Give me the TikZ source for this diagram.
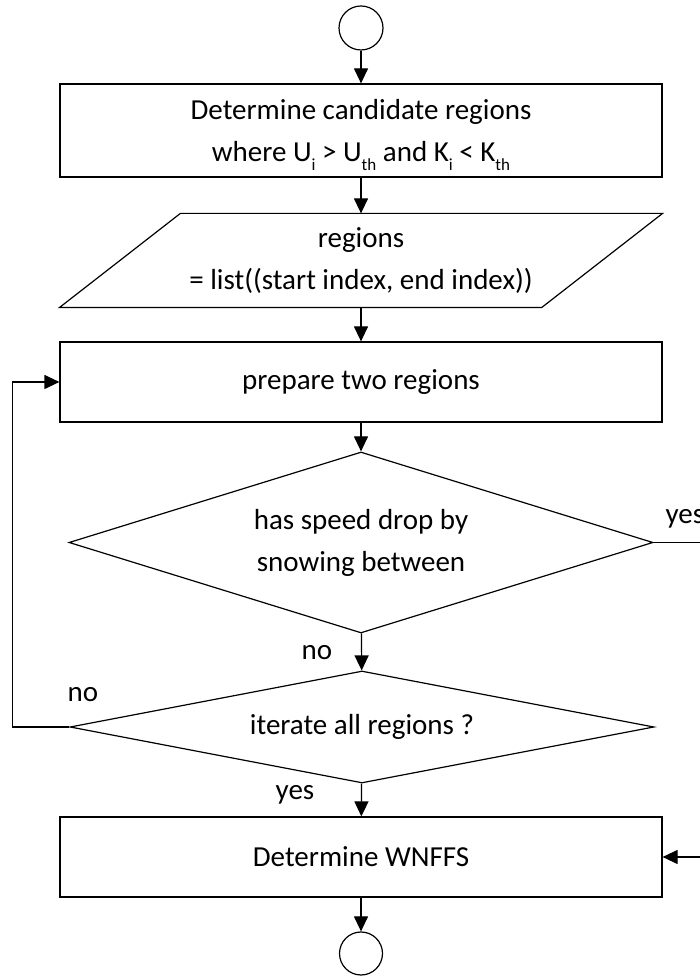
\documentclass[tikz,border=0pt]{standalone}
\usepackage{fontspec}
\setmainfont{Carlito}
\usetikzlibrary{shapes.geometric, arrows.meta}
\newcommand\lowsub[1]{\raisebox{-9pt}[0pt][0pt]{\fontsize{17}{17}\selectfont #1}}

\begin{document}
\begin{tikzpicture}[x = 1pt, y = 1pt, line width = 1.2pt,
	every node/.style = {font = \fontsize{29}{42}\selectfont, align = center, inner sep = 0pt},
	term/.style = {draw, circle, minimum size = 44pt},
	proc/.style = {draw, rectangle, minimum width = 602pt},
	dec/.style = {draw, diamond, minimum width = 584pt},
	arr/.style = {-{Triangle[length = 15pt, width = 14pt]}}]
	\clip (0,0) rectangle (700,977);

	\node[term] (start) at (361,949) {};
	\node[proc, minimum height = 93pt] (cand) at (361,846.5)
		{Determine candidate regions\\where U\lowsub{i} > U\lowsub{th} and K\lowsub{i} < K\lowsub{th}};
	\node[minimum width = 602pt, minimum height = 93pt] (regs) at (361,716.5)
		{regions\\= list((start index, end index))};
	\node[proc, minimum height = 80pt] (prep) at (361,595) {prepare two regions};
	\node[dec, shape aspect = 3.2, minimum height = 181pt] (snow) at (361,434.5) {has speed drop by\\snowing between};
	\node[dec, shape aspect = 5.2, minimum height = 112pt] (iter) at (362,250) {iterate all regions ?};
	\node[proc, minimum height = 80pt] (wnffs) at (361,120) {Determine WNFFS};
	\node[term, minimum size = 43pt] (stop) at (361,23.5) {};

	\draw ([xshift = 121pt]regs.north west) -- (regs.north east)
		-- ([xshift = -121pt]regs.south east) -- (regs.south west) -- cycle;

	\node[anchor = base] (no1) at (317,317) {no};
	\node[anchor = base] (no2) at (83,275) {no};
	\node[anchor = base] (yes1) at (295,177) {yes};
	\node[anchor = base west] (yes2) at (665,453) {yes};

	\coordinate (noturn) at (12.7,250);
	\coordinate (yesturn) at (730,120);

	\draw[arr] (start) -- (cand);
	\draw[arr] (cand) -- (regs);
	\draw[arr] (regs) -- (prep);
	\draw[arr] (prep) -- (snow);
	\draw[arr] (snow) -- (iter);
	\draw[arr] (iter) -- (wnffs);
	\draw[arr] (wnffs) -- (stop);
	\draw[arr] (iter.west) -- (noturn) |- (prep.west);
	\draw[arr] (snow.east) -| (yesturn) -- (wnffs.east);
\end{tikzpicture}
\end{document}
